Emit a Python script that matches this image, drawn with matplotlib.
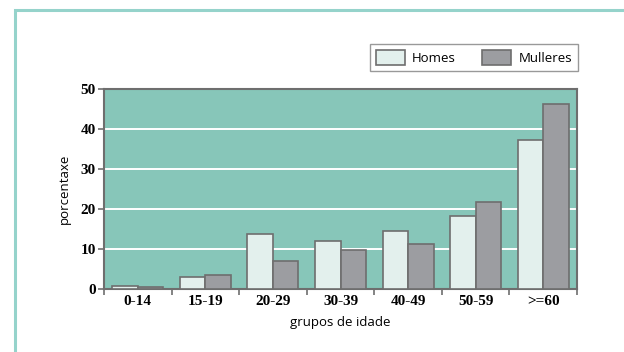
import matplotlib
matplotlib.use('Agg')
import matplotlib.pyplot as plt
import numpy as np
from matplotlib.patches import Rectangle

# data
grupos   = ['0-14', '15-19', '20-29', '30-39', '40-49', '50-59', '>=60']
homes    = [0.8, 3.1, 13.8, 12.1, 14.6, 18.3, 37.2]
mulleres = [0.6, 3.6, 7.1, 9.8, 11.2, 21.8, 46.2]
yticks   = [0, 10, 20, 30, 40, 50]

c_bg    = '#87c6b9'
c_home  = '#e3f0ed'
c_mull  = '#9c9da1'
c_edge  = '#6e6e6e'
c_frame = '#95d3cb'

W, H = 624, 352
fig = plt.figure(figsize=(W/100, H/100), dpi=100)

# teal outer frame (left and top edges visible)
fig.patches.append(Rectangle((15/W, -0.1), 1.2, (H-10)/H + 0.1, transform=fig.transFigure,
                             fill=False, edgecolor=c_frame, linewidth=2.2))

ax = fig.add_axes([104/W, 1-289/H, (577-104)/W, (289-89)/H])
ax.set_facecolor(c_bg)

x = np.arange(len(grupos))
bw = 0.378
ax.bar(x - bw/2, homes, bw, color=c_home, edgecolor=c_edge, linewidth=1.2, label='Homes', zorder=3)
ax.bar(x + bw/2, mulleres, bw, color=c_mull, edgecolor=c_edge, linewidth=1.2, label='Mulleres', zorder=3)

ax.set_xlim(-0.5, len(grupos)-0.5)
ax.set_ylim(0, 50)
ax.set_yticks(yticks)
for v in yticks[1:-1]:
  ax.axhline(v, color='white', linewidth=1.4, zorder=1)

ax.set_xticks(np.arange(len(grupos)+1) - 0.5, minor=False)
ax.set_xticklabels([])
ax.set_xticks(x, minor=True)
ax.set_xticklabels(grupos, minor=True, fontfamily='Liberation Serif', fontweight='bold', fontsize=11)
ax.tick_params(axis='x', which='minor', length=0, pad=4)
ax.tick_params(axis='x', which='major', length=4, width=1.2, color=c_edge, direction='out')
ax.tick_params(axis='y', length=4, width=1.2, color=c_edge, pad=2)
for lab in ax.get_yticklabels():
  lab.set_fontfamily('Liberation Serif'); lab.set_fontweight('bold'); lab.set_fontsize(11)

for s in ax.spines.values():
  s.set_color(c_edge); s.set_linewidth(1.5)

ax.set_xlabel('grupos de idade', fontfamily='Open Sans', fontsize=9.5, labelpad=6)
ax.set_ylabel('porcentaxe', fontfamily='Open Sans', fontsize=9.5, labelpad=7)

leg = ax.legend(loc='lower right', bbox_to_anchor=(1.002, 1.09), ncol=2, frameon=True, fancybox=False,
                prop={'family': 'Open Sans', 'size': 9.5}, borderpad=0.45, handlelength=2.2,
                handleheight=1.4, columnspacing=2.0, handletextpad=0.55, borderaxespad=0)
leg.get_frame().set_edgecolor('#808080')
leg.get_frame().set_linewidth(1.0)

fig.savefig('out.png', dpi=100)
